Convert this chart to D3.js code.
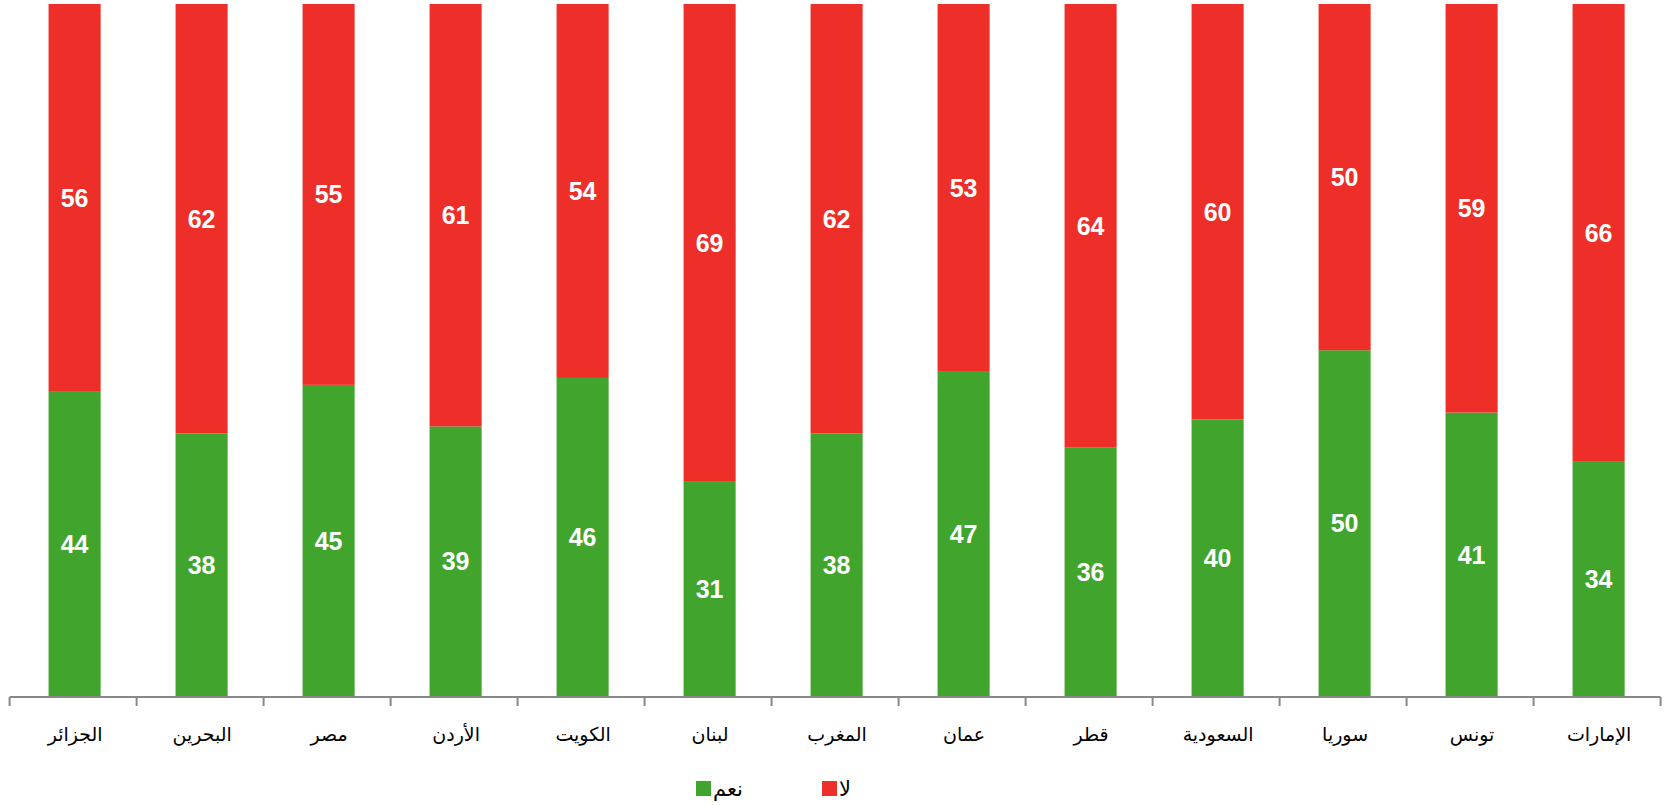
<!DOCTYPE html>
<html>
<head>
<meta charset="utf-8">
<script src="https://cdn.jsdelivr.net/npm/d3@7"></script>
<style>
html,body{margin:0;padding:0;background:#fff;}
svg{display:block;}
.val{font-family:"Liberation Sans",Arial,sans-serif;font-weight:bold;font-size:25px;fill:#fff;}
.cat{font-family:"DejaVu Sans","Liberation Sans",sans-serif;font-size:19px;fill:#000;}
.leg{font-family:"DejaVu Sans","Liberation Sans",sans-serif;font-size:21px;fill:#000;}
</style>
</head>
<body>
<div id="chart"></div>
<script>
// countries, left to right as in the picture
const countries=['الجزائر','البحرين','مصر','الأردن','الكويت','لبنان','المغرب','عمان','قطر','السعودية','سوريا','تونس','الإمارات'];
const yes=[44,38,45,39,46,31,38,47,36,40,50,41,34];
const no=[56,62,55,61,54,69,62,53,64,60,50,59,66];
const seriesNames=['نعم','لا'];
const colors=['#41a42d','#ee2e28'];

const W=1667,H=805;
const svg=d3.select('#chart').append('svg').attr('width',W).attr('height',H);

const x=d3.scaleBand().domain(countries).range([9.6,1660.6]).padding(0);
const y=d3.scaleLinear().domain([0,100]).range([696.5,4]);
const barW=x.bandwidth()*0.41;
const off=(x.bandwidth()-barW)/2+1.5;

const rows=countries.map((c,i)=>({c,yes:yes[i],no:no[i]}));
const stack=d3.stack().keys(['yes','no'])(rows);

const layers=svg.append('g').selectAll('g').data(stack).enter().append('g')
  .attr('fill',(d,i)=>colors[i]);

layers.selectAll('rect').data(d=>d).enter().append('rect')
  .attr('x',d=>x(d.data.c)+off)
  .attr('width',barW)
  .attr('y',d=>y(d[1]))
  .attr('height',d=>y(d[0])-y(d[1]));

layers.selectAll('text').data(d=>d).enter().append('text')
  .attr('class','val')
  .attr('text-anchor','middle')
  .attr('x',d=>x(d.data.c)+off+barW/2)
  .attr('y',d=>(y(d[0])+y(d[1]))/2+9)
  .text(d=>d[1]-d[0]);

// axis: baseline with ticks at category boundaries
const ax=svg.append('g');
const r=x.range();
ax.append('line').attr('x1',r[0]).attr('x2',r[1]).attr('y1',697).attr('y2',697)
  .attr('stroke','#888').attr('stroke-width',2);
const bounds=countries.map(c=>x(c)).concat([r[1]]);
ax.selectAll('line.tk').data(bounds).enter().append('line').attr('class','tk')
  .attr('x1',d=>d).attr('x2',d=>d).attr('y1',697).attr('y2',706)
  .attr('stroke','#888').attr('stroke-width',2);
ax.selectAll('text').data(countries).enter().append('text')
  .attr('class','cat').attr('text-anchor','middle')
  .attr('x',d=>x(d)+x.bandwidth()/2+2).attr('y',741)
  .text(d=>d);

// legend
const legX=[696,822];
const leg=svg.append('g').selectAll('g').data(seriesNames).enter().append('g')
  .attr('transform',(d,i)=>`translate(${legX[i]},781)`);
leg.append('rect').attr('width',15).attr('height',15).attr('fill',(d,i)=>colors[i]);
leg.append('text').attr('class','leg').attr('x',17).attr('y',15).text(d=>d);
</script>
</body>
</html>
